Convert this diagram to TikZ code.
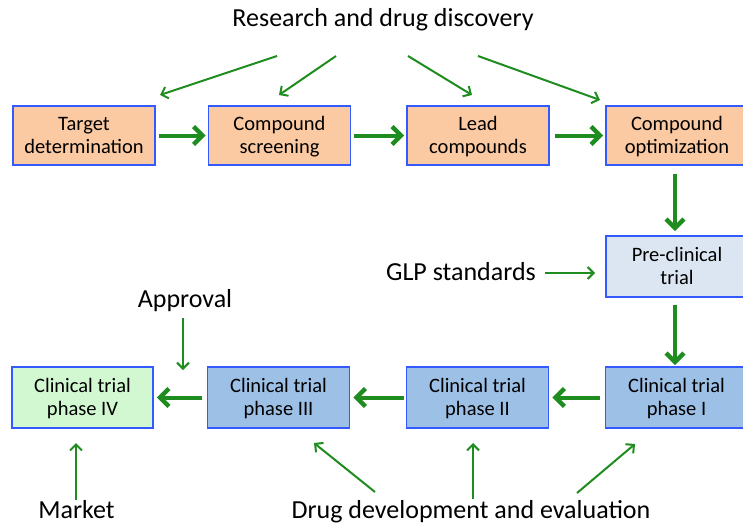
\documentclass[tikz,border=0pt]{standalone}
\usepackage{fontspec}
\setmainfont{Carlito}
\usetikzlibrary{arrows.meta}
\definecolor{arrgreen}{RGB}{30,140,30}
\definecolor{boxborder}{RGB}{50,90,255}
\definecolor{peach}{RGB}{251,202,162}
\definecolor{paleblue}{RGB}{220,230,242}
\definecolor{midblue}{RGB}{157,192,230}
\definecolor{palegreen}{RGB}{210,248,210}
\newcommand{\tstrut}{\rule{0pt}{19pt}}
\newcommand{\bstrut}{\rule[-6pt]{0pt}{6pt}}
\tikzset{
  stagebox/.style={draw=boxborder, line width=1.6pt, minimum width=142pt, minimum height=60pt,
    align=center, inner sep=0pt, font=\fontsize{20.5}{23}\selectfont},
  research/.style={stagebox, fill=peach, minimum height=59pt},
  preclin/.style={stagebox, fill=paleblue, minimum height=61pt},
  trial/.style={stagebox, fill=midblue, minimum height=61pt},
  market/.style={stagebox, fill=palegreen, minimum height=61pt, minimum width=141pt},
  label/.style={anchor=base, inner sep=0pt, font=\fontsize{26}{30}\selectfont},
  bigarrow/.style={draw=arrgreen, line width=4pt, -{Straight Barb[length=9pt,width=18pt,line width=4.5pt]}},
  thinarrow/.style={draw=arrgreen, line width=2pt, -{Straight Barb[length=6pt,width=12pt,line width=2pt]}}
}
\begin{document}
\begin{tikzpicture}[x=1pt,y=-1pt]
\useasboundingbox (0,0) rectangle (743,524);
\begin{scope}
\clip (0,0) rectangle (743,524);
% top row
\node[research] (td) at (84,135.5) {\tstrut Target\\determination\bstrut};
\node[research] (cs) at (279.5,135.5) {\tstrut Compound\\screening\bstrut};
\node[research] (lc) at (478,135.5) {\tstrut Lead\\compounds\bstrut};
\node[research] (co) at (677,135.5) {\tstrut Compound\\optimization\bstrut};
% pre-clinical
\node[preclin] (pc) at (677,266.5) {\tstrut Pre-clinical\\trial\bstrut};
% bottom row
\node[market] (p4) at (82.5,397.5) {\tstrut Clinical trial\\phase IV\bstrut};
\node[trial] (p3) at (278.5,397.5) {\tstrut Clinical trial\\phase III\bstrut};
\node[trial] (p2) at (477.5,397.5) {\tstrut Clinical trial\\phase II\bstrut};
\node[trial] (p1) at (676.5,397.5) {\tstrut Clinical trial\\phase I\bstrut};
\end{scope}
% labels
\node[label] (rd) at (383,27) {Research and drug discovery};
\node[label] (glp) at (461,280) {GLP standards};
\node[label] (ap) at (185,307) {Approval};
\node[label] (mk) at (76.5,518) {Market};
\node[label] (dd) at (471,518) {Drug development and evaluation};
% thick arrows
\draw[bigarrow, shorten <=3pt, shorten >=2pt] (td.east) -- (cs.west);
\draw[bigarrow, shorten <=3pt, shorten >=2pt] (cs.east) -- (lc.west);
\draw[bigarrow, shorten <=5pt, shorten >=2pt] (lc.east) -- (co.west);
\draw[bigarrow] ([yshift=-8pt]co.south -| 675,0) -- ([yshift=4pt]pc.north -| 675,0);
\draw[bigarrow] ([yshift=-7pt]pc.south -| 675,0) -- ([yshift=1pt]p1.north -| 675,0);
\draw[bigarrow, shorten <=5pt, shorten >=3pt] (p1.west) -- (p2.east);
\draw[bigarrow, shorten <=2pt, shorten >=3pt] (p2.west) -- (p3.east);
\draw[bigarrow, shorten <=5pt, shorten >=3pt] (p3.west) -- (p4.east);
% thin arrow end points
\coordinate (a1s) at (277,56);  \coordinate (a1e) at (160,95);
\coordinate (a2s) at (336,56);  \coordinate (a2e) at (279,95);
\coordinate (a3s) at (408,56);  \coordinate (a3e) at (472,95);
\coordinate (a4s) at (478,56);  \coordinate (a4e) at (600,100);
\coordinate (gs) at (545,273);  \coordinate (ge) at (595,273);
\coordinate (as) at (183,318);  \coordinate (ae) at (183,370);
\coordinate (ms) at (76,500);   \coordinate (me) at (76,443);
\coordinate (d3s) at (375,492); \coordinate (d3e) at (314,443);
\coordinate (d2s) at (473,499); \coordinate (d2e) at (473,443);
\coordinate (d1s) at (577,493); \coordinate (d1e) at (635,444);
\draw[thinarrow] (a1s) -- (a1e);
\draw[thinarrow] (a2s) -- (a2e);
\draw[thinarrow] (a3s) -- (a3e);
\draw[thinarrow] (a4s) -- (a4e);
\draw[thinarrow] (gs) -- (ge);
\draw[thinarrow] (as) -- (ae);
\draw[thinarrow] (ms) -- (me);
\draw[thinarrow] (d3s) -- (d3e);
\draw[thinarrow] (d2s) -- (d2e);
\draw[thinarrow] (d1s) -- (d1e);
\end{tikzpicture}
\end{document}
